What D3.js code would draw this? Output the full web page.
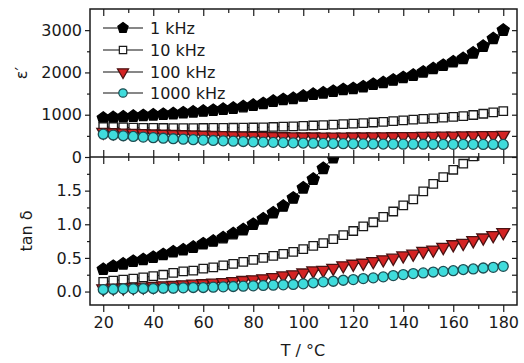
<!DOCTYPE html>
<html>
<head>
<meta charset="utf-8">
<script src="https://cdn.jsdelivr.net/npm/d3@7"></script>
<style>
  html, body { margin: 0; padding: 0; background: #fff; }
  svg { display: block; }
  text { font-family: "DejaVu Sans", sans-serif; fill: #1a1a1a; }
</style>
</head>
<body>
<svg id="chart" width="524" height="363"></svg>
<script>
// Temperature steps (°C)
const temps = [20, 24, 28, 32, 36, 40, 44, 48, 52, 56, 60, 64, 68, 72, 76, 80, 84, 88, 92, 96,
               100, 104, 108, 112, 116, 120, 124, 128, 132, 136, 140, 144, 148, 152, 156, 160,
               164, 168, 172, 176, 180];

const seriesNames = ["1 kHz", "10 kHz", "100 kHz", "1000 kHz"];

// Real permittivity ε′
const eps1k = [920, 935, 950, 965, 980, 995, 1010, 1025, 1045, 1065, 1085, 1105, 1130, 1155, 1190,
               1225, 1265, 1320, 1360, 1385, 1440, 1485, 1515, 1555, 1595, 1620, 1660, 1720, 1760,
               1820, 1880, 1935, 2010, 2090, 2170, 2250, 2330, 2460, 2620, 2800, 3000];
const eps10k = [710, 705, 700, 695, 690, 688, 686, 685, 685, 685, 686, 688, 690, 692, 695, 698, 703,
                710, 718, 726, 735, 745, 755, 766, 777, 790, 803, 816, 830, 850, 868, 885, 900, 915,
                930, 948, 968, 993, 1023, 1055, 1085];
const eps100k = [590, 580, 572, 565, 558, 551, 545, 539, 533, 527, 521, 515, 510, 505, 500, 496, 492,
                 488, 485, 482, 480, 479, 478, 478, 478, 479, 480, 482, 484, 486, 488, 490, 493, 496,
                 499, 502, 505, 508, 511, 514, 517];
const eps1000k = [540, 520, 502, 486, 471, 457, 444, 432, 421, 410, 400, 391, 382, 374, 366, 359, 352,
                  346, 340, 335, 330, 326, 322, 318, 315, 312, 310, 308, 306, 305, 304, 303, 302, 301,
                  300, 300, 299, 299, 298, 298, 298];

// Loss tangent tan δ
const tan1k = [0.33, 0.375, 0.41, 0.45, 0.475, 0.51, 0.55, 0.59, 0.62, 0.66, 0.71, 0.75, 0.80, 0.86,
               0.92, 1.00, 1.08, 1.17, 1.27, 1.39, 1.54, 1.67, 1.83, 1.99, 2.2];
const tan10k = [0.144, 0.163, 0.178, 0.193, 0.21, 0.23, 0.25, 0.277, 0.30, 0.31, 0.34, 0.36, 0.39,
                0.41, 0.44, 0.47, 0.50, 0.53, 0.56, 0.59, 0.63, 0.68, 0.72, 0.78, 0.84, 0.90, 0.97,
                1.03, 1.11, 1.19, 1.28, 1.37, 1.49, 1.60, 1.70, 1.81, 1.90, 2.01];
const tan100k = [0.045, 0.055, 0.055, 0.064, 0.07, 0.079, 0.089, 0.094, 0.104, 0.114, 0.12, 0.129,
                 0.138, 0.153, 0.168, 0.178, 0.193, 0.212, 0.237, 0.252, 0.28, 0.31, 0.32, 0.35,
                 0.386, 0.41, 0.425, 0.45, 0.475, 0.50, 0.534, 0.56, 0.60, 0.62, 0.66, 0.70, 0.72,
                 0.76, 0.80, 0.835, 0.88];
const tan1000k = [0.03, 0.035, 0.04, 0.04, 0.045, 0.045, 0.05, 0.05, 0.055, 0.06, 0.06, 0.065, 0.07,
                  0.075, 0.08, 0.085, 0.09, 0.095, 0.10, 0.105, 0.114, 0.13, 0.144, 0.153, 0.168,
                  0.178, 0.193, 0.203, 0.218, 0.237, 0.252, 0.267, 0.277, 0.29, 0.30, 0.31, 0.327,
                  0.336, 0.35, 0.36, 0.375];

// Tick values
const xMajor = [20, 40, 60, 80, 100, 120, 140, 160, 180];
const xMinor = [30, 50, 70, 90, 110, 130, 150, 170];
const epsMajor = [0, 1000, 2000, 3000];
const epsMinor = [500, 1500, 2500];
const tanMajor = [0.0, 0.5, 1.0, 1.5];
const tanMinor = [0.25, 0.75, 1.25, 1.75];

// Layout
const L = 90, R = 517, T = 9, M = 157, B = 305;

const svg = d3.select("#chart");

const x = d3.scaleLinear().domain([14.7, 185.5]).range([L, R]);
const yEps = d3.scaleLinear().domain([0, 3500]).range([M, T]);
const yTan = d3.scaleLinear().domain([-0.2, 2.0]).range([B, M]);

// Clip regions for each panel
const defs = svg.append("defs");
defs.append("clipPath").attr("id", "clipTop").append("rect")
  .attr("x", L).attr("y", T - 1).attr("width", R - L).attr("height", M - T + 1);
defs.append("clipPath").attr("id", "clipBot").append("rect")
  .attr("x", L).attr("y", M).attr("width", R - L).attr("height", B - M);

// Marker shapes
function pentagonPath(r) {
  const pts = d3.range(5).map(k => {
    const a = -Math.PI / 2 + k * 2 * Math.PI / 5;
    return [r * Math.cos(a), r * Math.sin(a)];
  });
  return d3.line()(pts) + "Z";
}
const styles = [
  { path: pentagonPath(6.3), fill: "#000", stroke: "#000", rot: 0 },
  { path: d3.symbol(d3.symbolSquare, 72)(), fill: "#fff", stroke: "#1a1a1a", rot: 0 },
  { path: d3.symbol(d3.symbolTriangle, 72)(), fill: "#d42323", stroke: "#4a1212", rot: 180 },
  { path: d3.symbol(d3.symbolCircle, 78)(), fill: "#3fdcdc", stroke: "#1d4d52", rot: 0 }
];
const legendStyles = [
  { path: pentagonPath(5.4), fill: "#000", stroke: "#000", rot: 0 },
  { path: d3.symbol(d3.symbolSquare, 54)(), fill: "#fff", stroke: "#1a1a1a", rot: 0 },
  { path: d3.symbol(d3.symbolTriangle, 54)(), fill: "#d42323", stroke: "#4a1212", rot: 180 },
  { path: d3.symbol(d3.symbolCircle, 56)(), fill: "#3fdcdc", stroke: "#1d4d52", rot: 0 }
];

function drawPanel(seriesList, yScale, clipId) {
  const g = svg.append("g").attr("clip-path", `url(#${clipId})`);
  seriesList.forEach(vals => {
    const pts = vals.map((v, j) => [temps[j], v]);
    g.append("path")
      .attr("d", d3.line().x(d => x(d[0])).y(d => yScale(d[1]))(pts))
      .attr("fill", "none").attr("stroke", "#111").attr("stroke-width", 1);
  });
  seriesList.forEach((vals, i) => {
    const st = styles[i];
    g.selectAll(null).data(vals.map((v, j) => [temps[j], v])).enter()
      .append("path")
      .attr("d", st.path)
      .attr("transform", d => `translate(${x(d[0])},${yScale(d[1])}) rotate(${st.rot})`)
      .attr("fill", st.fill).attr("stroke", st.stroke).attr("stroke-width", 1.3);
  });
}

drawPanel([eps1k, eps10k, eps100k, eps1000k], yEps, "clipTop");
drawPanel([tan1k, tan10k, tan100k, tan1000k], yTan, "clipBot");

// Axes
const axisStyle = g => {
  g.select(".domain").remove();
  g.selectAll("line").attr("stroke", "#1a1a1a").attr("stroke-width", 1.2);
  g.selectAll("text").attr("font-size", 16).attr("font-family", "DejaVu Sans, sans-serif").attr("fill", "#1a1a1a");
};

// left, top panel
svg.append("g").attr("transform", `translate(${L},0)`)
  .call(d3.axisLeft(yEps).tickValues(epsMajor).tickSize(5).tickPadding(3).tickFormat(d3.format("d")))
  .call(axisStyle);
svg.append("g").attr("transform", `translate(${L},0)`)
  .call(d3.axisLeft(yEps).tickValues(epsMinor).tickSize(3).tickFormat(""))
  .call(axisStyle);
// right, top panel
svg.append("g").attr("transform", `translate(${R},0)`)
  .call(d3.axisRight(yEps).tickValues(epsMajor.concat(epsMinor)).tickSize(-5).tickFormat(""))
  .call(axisStyle);

// left, bottom panel
svg.append("g").attr("transform", `translate(${L},0)`)
  .call(d3.axisLeft(yTan).tickValues(tanMajor).tickSize(5).tickPadding(3).tickFormat(d3.format(".1f")))
  .call(axisStyle);
svg.append("g").attr("transform", `translate(${L},0)`)
  .call(d3.axisLeft(yTan).tickValues(tanMinor).tickSize(3).tickFormat(""))
  .call(axisStyle);
// right, bottom panel
svg.append("g").attr("transform", `translate(${R},0)`)
  .call(d3.axisRight(yTan).tickValues(tanMajor.concat(tanMinor)).tickSize(-5).tickFormat(""))
  .call(axisStyle);

// top edge (inward ticks)
svg.append("g").attr("transform", `translate(0,${T})`)
  .call(d3.axisTop(x).tickValues(xMajor).tickSize(-7).tickFormat(""))
  .call(axisStyle);
svg.append("g").attr("transform", `translate(0,${T})`)
  .call(d3.axisTop(x).tickValues(xMinor).tickSize(-4).tickFormat(""))
  .call(axisStyle);

// shared middle edge: ticks reach into both panels
[[xMajor, 7], [xMinor, 4]].forEach(([vals, len]) => {
  svg.append("g").attr("transform", `translate(0,${M})`)
    .call(d3.axisTop(x).tickValues(vals).tickSize(len).tickFormat(""))
    .call(axisStyle);
  svg.append("g").attr("transform", `translate(0,${M})`)
    .call(d3.axisBottom(x).tickValues(vals).tickSize(len).tickFormat(""))
    .call(axisStyle);
});

// bottom edge
svg.append("g").attr("transform", `translate(0,${B})`)
  .call(d3.axisBottom(x).tickValues(xMajor).tickSize(7).tickPadding(5).tickFormat(d3.format("d")))
  .call(axisStyle);
svg.append("g").attr("transform", `translate(0,${B})`)
  .call(d3.axisBottom(x).tickValues(xMinor).tickSize(4).tickFormat(""))
  .call(axisStyle);

// frames
svg.append("rect").attr("x", L).attr("y", T).attr("width", R - L).attr("height", B - T)
  .attr("fill", "none").attr("stroke", "#1a1a1a").attr("stroke-width", 1.5);
svg.append("line").attr("x1", L).attr("x2", R).attr("y1", M).attr("y2", M)
  .attr("stroke", "#1a1a1a").attr("stroke-width", 1.5);

// axis titles
svg.append("text").attr("transform", `translate(27,73) rotate(-90)`)
  .attr("text-anchor", "middle").attr("font-size", 16).text("ε′");
svg.append("text").attr("transform", `translate(32,231) rotate(-90)`)
  .attr("text-anchor", "middle").attr("font-size", 16).text("tan δ");
svg.append("text").attr("x", 303).attr("y", 356)
  .attr("text-anchor", "middle").attr("font-size", 16).text("T / °C");

// legend
const legendRows = [28, 50, 72, 93];
seriesNames.forEach((name, i) => {
  const g = svg.append("g").attr("transform", `translate(0,${legendRows[i]})`);
  g.append("line").attr("x1", 103).attr("x2", 143).attr("y1", 0).attr("y2", 0)
    .attr("stroke", "#111").attr("stroke-width", 1.2);
  const st = legendStyles[i];
  g.append("path").attr("d", st.path)
    .attr("transform", `translate(123,0) rotate(${st.rot})`)
    .attr("fill", st.fill).attr("stroke", st.stroke).attr("stroke-width", 1.2);
  g.append("text").attr("x", 150).attr("y", 6).attr("font-size", 16).text(name);
});
</script>
</body>
</html>
